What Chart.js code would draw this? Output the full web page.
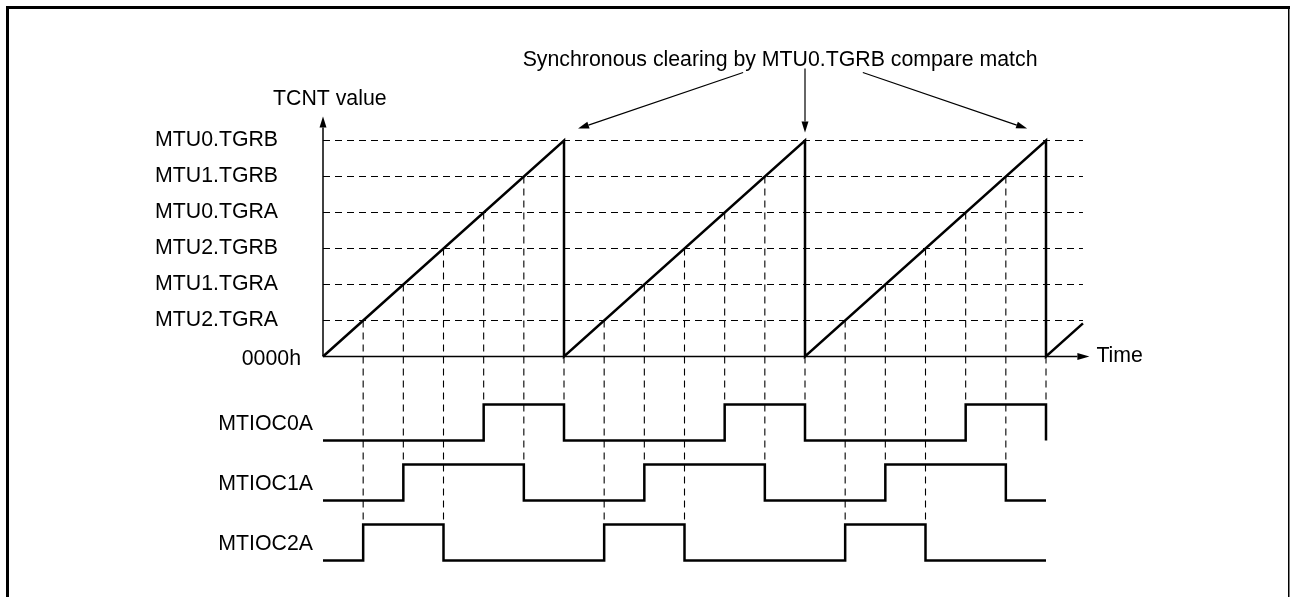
<!DOCTYPE html>
<html>
<head>
<meta charset="utf-8">
<title>Synchronous clearing by MTU0.TGRB compare match</title>
<script src="https://cdn.jsdelivr.net/npm/chart.js@4.4.1/dist/chart.umd.min.js"></script>
<style>
    html, body { margin: 0; padding: 0; background: #fff; }
    canvas { display: block; }
</style>
</head>
<body>
<canvas id="timingChart" width="1290" height="597"></canvas>
<script>
// ========================================
// DATOS DEL DIAGRAMA
// ========================================
const levelNames  = ['0000h', 'MTU2.TGRA', 'MTU1.TGRA', 'MTU2.TGRB', 'MTU0.TGRA', 'MTU1.TGRB', 'MTU0.TGRB'];
const levelValues = [0, 1, 2, 3, 4, 5, 6];

// TCNT (diente de sierra, se borra en cada MTU0.TGRB)
const tcntTimes  = [0, 6, 6, 12, 12, 18, 18, 18.92];
const tcntValues = [0, 6, 0, 6, 0, 6, 0, 0.92];
const clearTimes = [6, 12, 18];

// Salidas MTIOC (0 = bajo, 1 = alto)
const signalNames   = ['MTIOC0A', 'MTIOC1A', 'MTIOC2A'];
const mtioc0aTimes  = [0, 4, 6, 10, 12, 16, 18];
const mtioc0aStates = [0, 1, 0, 1, 0, 1, 0];
const mtioc1aTimes  = [0, 2, 5, 8, 11, 14, 17, 18];
const mtioc1aStates = [0, 1, 0, 1, 0, 1, 0, 0];
const mtioc2aTimes  = [0, 1, 3, 7, 9, 13, 15, 18];
const mtioc2aStates = [0, 1, 0, 1, 0, 1, 0, 0];

const titleText = 'Synchronous clearing by MTU0.TGRB compare match';

// ========================================
// DISPOSICIÓN (no son datos)
// ========================================
const signalBase = [-2.333, -4, -5.667];      // línea base de cada señal
const guideEnd   = 18.92;                      // fin de las líneas horizontales
const axisEndX   = 19.08;                      // punta de la flecha de tiempo
const axisEndY   = 6.67;                       // punta de la flecha TCNT
const titlePos   = { x: 11.38, y: 8.25 };
const calloutFrom = [{ x: 10.46, y: 7.89 }, { x: 12, y: 8.0 }, { x: 13.44, y: 7.89 }];
const calloutTo   = [{ x: 6.35, y: 6.33 }, { x: 12, y: 6.22 }, { x: 17.53, y: 6.33 }];

const FONT = '21.3px "Liberation Sans", Arial, Helvetica, sans-serif';
const INK = '#000';

// ========================================
// CONSTRUIR DATASETS
// ========================================
const signals = [
    { times: mtioc0aTimes, states: mtioc0aStates },
    { times: mtioc1aTimes, states: mtioc1aStates },
    { times: mtioc2aTimes, states: mtioc2aStates }
];

const datasets = [];

function dashed(points) {
    return {
        data: points,
        borderColor: INK,
        borderWidth: 1.1,
        borderDash: [7, 5],
        pointRadius: 0,
        clip: false,
        order: 2
    };
}

// Líneas horizontales de los registros
levelValues.slice(1).forEach(v => {
    datasets.push(dashed([{ x: 0, y: v }, { x: guideEnd, y: v }]));
});

// Líneas verticales: de cada coincidencia hasta el flanco de la señal
const edgeTimes = [];
signals.forEach((s, idx) => {
    for (let i = 1; i < s.times.length; i++) {
        if (s.states[i] !== s.states[i - 1]) edgeTimes.push({ t: s.times[i], sig: idx });
    }
});
edgeTimes.sort((a, b) => a.t - b.t);
edgeTimes.forEach(e => {
    const isClear = clearTimes.includes(e.t);
    const top = isClear ? 0 : tcntValues[0] + (e.t % 6);
    datasets.push(dashed([{ x: e.t, y: top }, { x: e.t, y: signalBase[e.sig] + 1 }]));
});

// Contador TCNT
datasets.push({
    data: tcntTimes.map((t, i) => ({ x: t, y: tcntValues[i] })),
    borderColor: INK,
    borderWidth: 2.5,
    pointRadius: 0,
    clip: false,
    order: 0
});

// Señales de salida
signals.forEach((s, idx) => {
    datasets.push({
        data: s.times.map((t, i) => ({ x: t, y: signalBase[idx] + s.states[i] })),
        borderColor: INK,
        borderWidth: 2.5,
        stepped: 'before',
        pointRadius: 0,
        clip: false,
        order: 0
    });
});

// ========================================
// FUNCIONES AUXILIARES DE DIBUJO
// ========================================
function drawArrow(ctx, x1, y1, x2, y2, lw, headLen, headHalf) {
    const ang = Math.atan2(y2 - y1, x2 - x1);
    const bx = x2 - headLen * Math.cos(ang);
    const by = y2 - headLen * Math.sin(ang);
    ctx.lineWidth = lw;
    ctx.beginPath();
    ctx.moveTo(x1, y1);
    ctx.lineTo(bx, by);
    ctx.stroke();
    ctx.beginPath();
    ctx.moveTo(x2, y2);
    ctx.lineTo(bx + headHalf * Math.sin(ang), by - headHalf * Math.cos(ang));
    ctx.lineTo(bx - headHalf * Math.sin(ang), by + headHalf * Math.cos(ang));
    ctx.closePath();
    ctx.fill();
}

const diagramPlugin = {
    id: 'diagramPlugin',
    beforeDatasetsDraw(chart) {
        const { ctx, scales: { x, y } } = chart;
        const x0 = x.getPixelForValue(0);
        const y0 = y.getPixelForValue(0);
        ctx.save();
        ctx.strokeStyle = INK;
        ctx.fillStyle = INK;
        drawArrow(ctx, x0, y0, x.getPixelForValue(axisEndX), y0, 1.5, 12, 3.5);
        drawArrow(ctx, x0, y0, x0, y.getPixelForValue(axisEndY), 1.5, 11, 3.5);
        ctx.restore();
    },
    afterDraw(chart) {
        const { ctx, scales: { x, y } } = chart;
        const x0 = x.getPixelForValue(0);
        const y0 = y.getPixelForValue(0);
        ctx.save();
        ctx.fillStyle = INK;
        ctx.strokeStyle = INK;
        ctx.font = FONT;
        ctx.textBaseline = 'middle';

        // Etiquetas de registros
        levelNames.forEach((name, i) => {
            const py = y.getPixelForValue(levelValues[i]);
            if (i === 0) {
                ctx.textAlign = 'right';
                ctx.fillText(name, x0 - 22, py + 3);
            } else {
                ctx.textAlign = 'left';
                ctx.fillText(name, x0 - 168, py);
            }
        });

        // Etiquetas de señales
        ctx.textAlign = 'right';
        signalNames.forEach((name, i) => {
            const py = (y.getPixelForValue(signalBase[i]) + y.getPixelForValue(signalBase[i] + 1)) / 2;
            ctx.fillText(name, x0 - 10, py + 2);
        });

        // Títulos de ejes
        ctx.textAlign = 'left';
        ctx.fillText('TCNT value', x0 - 50, y.getPixelForValue(axisEndY) - 17);
        ctx.fillText('Time', x.getPixelForValue(axisEndX) + 7, y0);

        // Leyenda superior y flechas
        ctx.textAlign = 'center';
        ctx.fillText(titleText, x.getPixelForValue(titlePos.x), y.getPixelForValue(titlePos.y) + 1);
        calloutFrom.forEach((p, i) => {
            const q = calloutTo[i];
            drawArrow(ctx, x.getPixelForValue(p.x), y.getPixelForValue(p.y),
                x.getPixelForValue(q.x), y.getPixelForValue(q.y), 1.2, 11, 3.5);
        });

        // Marco
        ctx.fillRect(6, 6, chart.width - 6, 3);
        ctx.fillRect(6, 6, 3, chart.height - 6);
        ctx.fillRect(chart.width - 2, 6, 1.5, chart.height - 6);
        ctx.restore();
    }
};

// ========================================
// CREAR GRÁFICO
// ========================================
const ctx = document.getElementById('timingChart').getContext('2d');
const timingChart = new Chart(ctx, {
    type: 'line',
    data: { datasets: datasets },
    options: {
        responsive: false,
        animation: false,
        devicePixelRatio: 1,
        layout: {
            padding: { left: 323, right: 203.83, top: 104.5, bottom: 6.5 }
        },
        plugins: {
            legend: { display: false },
            tooltip: { enabled: false }
        },
        elements: {
            line: { tension: 0, borderJoinStyle: 'miter', borderCapStyle: 'butt' }
        },
        scales: {
            x: { type: 'linear', min: 0, max: 19, display: false },
            y: { type: 'linear', min: -6.5, max: 7, display: false }
        }
    },
    plugins: [diagramPlugin]
});
</script>
</body>
</html>
